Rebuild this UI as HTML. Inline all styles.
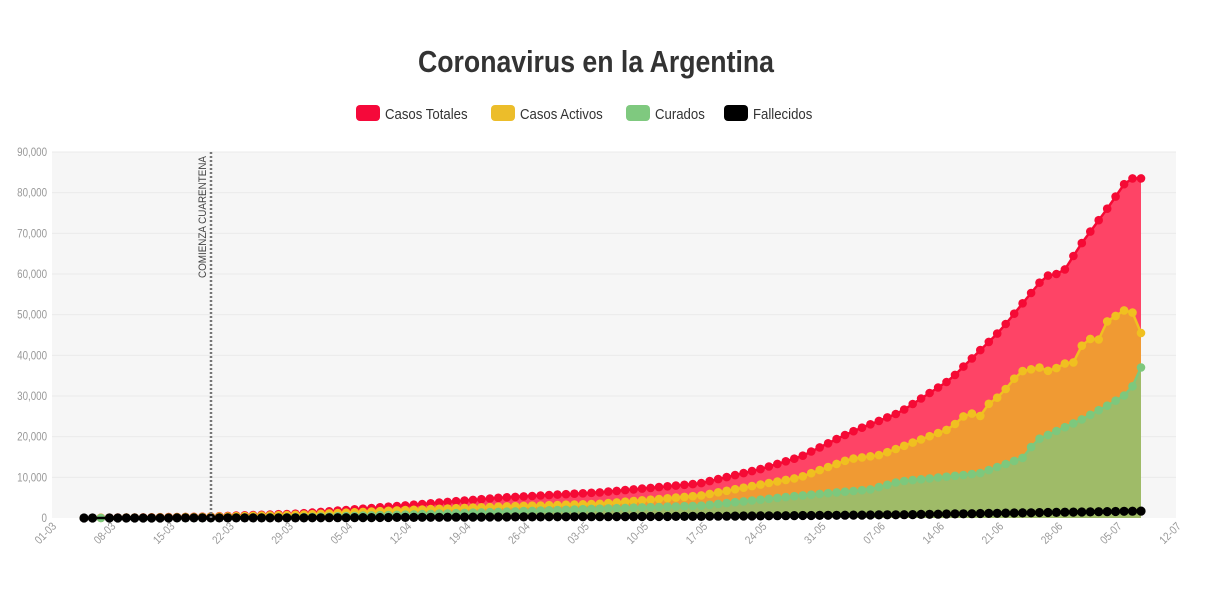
<!DOCTYPE html>
<html><head><meta charset="utf-8"><style>
body{margin:0;background:#fff;width:1208px;height:590px;overflow:hidden;font-family:"Liberation Sans",sans-serif}
</style></head><body>
<svg id="s" width="1208" height="590" xmlns="http://www.w3.org/2000/svg">
<text x="596" y="72" text-anchor="middle" font-family="Liberation Sans Narrow, Liberation Sans, sans-serif" font-weight="bold" font-size="31" fill="#333" transform="translate(596 0) scale(0.86 1) translate(-596 0)">Coronavirus en la Argentina</text>
<g font-family="Liberation Sans Narrow, Liberation Sans, sans-serif" font-size="15" fill="#333">
<rect x="356" y="105" width="24" height="16" rx="4" fill="#f5093a"/><text x="385" y="119" transform="translate(385 0) scale(0.88 1) translate(-385 0)">Casos Totales</text>
<rect x="491" y="105" width="24" height="16" rx="4" fill="#ecbd2a"/><text x="520" y="119" transform="translate(520 0) scale(0.88 1) translate(-520 0)">Casos Activos</text>
<rect x="626" y="105" width="24" height="16" rx="4" fill="#7fc97f"/><text x="655" y="119" transform="translate(655 0) scale(0.88 1) translate(-655 0)">Curados</text>
<rect x="724" y="105" width="24" height="16" rx="4" fill="#000"/><text x="753" y="119" transform="translate(753 0) scale(0.88 1) translate(-753 0)">Fallecidos</text>
</g>
<rect x="52" y="152" width="1124" height="366" fill="#f6f6f6"/>
<g id="grid"></g>
<g id="plot"></g>
<line x1="211" y1="152" x2="211" y2="518" stroke="#777" stroke-width="2.5" stroke-dasharray="2,2"/>
<text transform="translate(206 278) rotate(-90)" font-size="11" fill="#444" font-family="Liberation Sans Narrow, Liberation Sans, sans-serif" textLength="122" lengthAdjust="spacingAndGlyphs">COMIENZA CUARENTENA</text>
</svg>
<script>
var s=document.getElementById('s'),G=document.getElementById('grid'),P=document.getElementById('plot');
var NS='http://www.w3.org/2000/svg';
function el(p,t,a,txt){var e=document.createElementNS(NS,t);for(var k in a)e.setAttribute(k,a[k]);if(txt!==undefined)e.textContent=txt;p.appendChild(e);return e;}
function Y(v){return 518-v*366/90000;}
var FF='Liberation Sans Narrow, Liberation Sans, sans-serif';
for(var i=0;i<=9;i++){var y=Y(i*10000);
 if(i>0)el(G,'line',{x1:52,x2:1176,y1:y,y2:y,stroke:'#ebebeb','stroke-width':1});
 el(G,'text',{x:0,y:0,'text-anchor':'end','font-size':11.5,fill:'#999','font-family':FF,transform:'translate(47 '+(y+4)+') scale(0.85 1)'},i==0?'0':(i*10)+',000');}
var labs=['01-03','08-03','15-03','22-03','29-03','05-04','12-04','19-04','26-04','03-05','10-05','17-05','24-05','31-05','07-06','14-06','21-06','28-06','05-07','12-07'];
for(var i=0;i<labs.length;i++){var x=57+i*7*8.456;
 el(G,'text',{x:0,y:0,'text-anchor':'end','font-size':11.5,fill:'#999','font-family':FF,transform:'translate('+x+' 527) rotate(-45) scale(0.85 1)'},labs[i]);}
function interp(pts,x){if(x<=pts[0][0])return pts[0][1];for(var i=1;i<pts.length;i++){if(x<=pts[i][0]){var a=pts[i-1],b=pts[i],t=(x-a[0])/(b[0]-a[0]);return a[1]+(b[1]-a[1])*t;}}return pts[pts.length-1][1];}
var T=[[84,1],[200,300],[300,1100],[400,3000],[500,5000],[600,6300],[700,8500],[760,12000],[800,15000],[850,21000],[900,26000],[950,34000],[1000,46000],[1040,58000],[1050,60000],[1062,60000],[1080,67000],[1110,77000],[1128,83500],[1141,83500]];
var A=[[84,1],[200,250],[300,800],[400,1900],[500,2800],[600,3500],[700,5500],[800,10000],[850,14500],[880,15500],[950,22000],[968,26000],[980,25000],[990,28500],[1000,30000],[1020,36000],[1040,37000],[1050,36000],[1065,38000],[1072,37500],[1080,42000],[1095,45000],[1100,43500],[1105,48000],[1130,52000],[1141,45500]];
var C=[[84,0],[200,10],[300,200],[400,800],[500,1500],[600,2300],[700,3000],[800,5500],[870,7000],[900,9000],[980,11000],[1025,15000],[1035,19000],[1080,24000],[1110,28000],[1130,31000],[1141,37000]];
var D=[[84,0],[300,30],[500,250],[700,400],[900,800],[1141,1700]];
var xs=[];for(var d=0;d<=125;d++){xs.push(84+d*8.456);}
function series(pts,fill,line,mc,r){var v=xs.map(function(x){return interp(pts,x);});
 var dpts=xs.map(function(x,i){return x.toFixed(1)+','+Y(v[i]).toFixed(1);});
 if(fill)el(P,'path',{d:'M'+xs[0]+','+Y(0)+' L'+dpts.join(' L')+' L'+xs[xs.length-1]+','+Y(0)+'Z',fill:fill});
 return {v:v,d:dpts,line:line,mc:mc,r:r};}
var st=series(T,'#fe4466','#f50a35','#f50a35',4.3);
var sa=series(A,'#f09a33','#f0c020','#f0c020',4.3);
var sc=series(C,'#9fbb68','#7dc87d','#7dc87d',4.3);
var sd=series(D,null,'#000','#000',4.6);
[st,sa,sc,sd].forEach(function(o){
 el(P,'polyline',{points:o.d.join(' '),fill:'none',stroke:o.line,'stroke-width':2.5});
 o.d.forEach(function(p,i){if(o===sd&&i==2)return;var q=p.split(',');el(P,'circle',{cx:q[0],cy:q[1],r:o.r,fill:o.mc});});
});
</script>
</body></html>
